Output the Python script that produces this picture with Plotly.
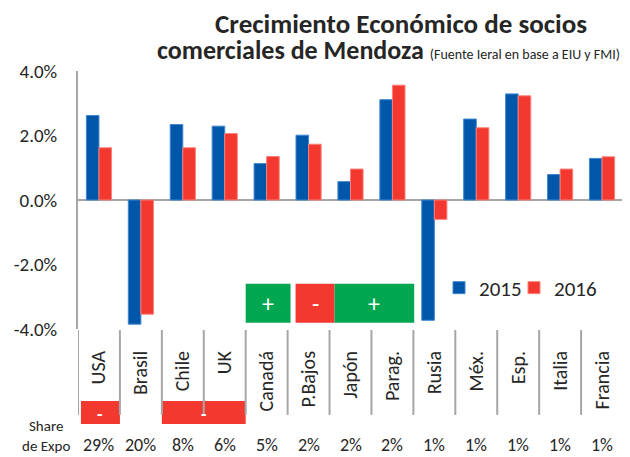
import plotly.graph_objects as go

categories = ["USA", "Brasil", "Chile", "UK", "Canadá", "P.Bajos", "Japón",
              "Parag.", "Rusia", "Méx.", "Esp.", "Italia", "Francia"]
g2015 = [2.62, -3.85, 2.34, 2.29, 1.13, 2.01, 0.57, 3.11, -3.73, 2.51, 3.29, 0.79, 1.29]
g2016 = [1.62, -3.54, 1.62, 2.06, 1.35, 1.73, 0.96, 3.56, -0.60, 2.24, 3.23, 0.96, 1.34]
share_expo = ["29%", "20%", "8%", "6%", "5%", "2%", "2%", "2%", "1%", "1%", "1%", "1%", "1%"]
y_ticks = [-4, -2, 0, 2, 4]
y_ticktext = ["-4.0%", "-2.0%", "0.0%", "2.0%", "4.0%"]

# upper indicator boxes (category span, sign)
up_start = [3.5, 4.69, 5.62]
up_end = [4.57, 5.62, 7.52]
up_sign = ["+", "-", "+"]
up_color = ["#00A650", "#F2382F", "#00A650"]
# lower indicator boxes
low_start = [-0.43, 1.5]
low_end = [0.5, 3.5]
low_sign = ["-", "-"]

BLUE = "#0057AA"
RED = "#F2382F"
GRAY = "#A6A6A6"
TXT = "#262626"
FONT = "Carlito, Lato, sans-serif"

# the page body has an 8px margin, so the figure is 8px smaller than the window
W, H = 622, 449
L, R, T, B = 70, 7, 63, 128
PW = W - L - R
PH = H - T - B

fig = go.Figure()
fig.add_trace(go.Bar(x=categories, y=g2015, name="2015", marker_color=BLUE,
                     marker_line=dict(color="#3F86D0", width=1), legend="legend"))
fig.add_trace(go.Bar(x=categories, y=g2016, name="2016", marker_color=RED,
                     marker_line=dict(color="#F8807A", width=1), legend="legend2"))

shapes = []
annotations = []
for s, e, c, sg in zip(up_start, up_end, up_color, up_sign):
    shapes.append(dict(type="rect", xref="x", yref="y", x0=s, x1=e, y0=-2.6, y1=-3.81,
                       fillcolor=c, line=dict(width=0), layer="above"))
    annotations.append(dict(xref="x", yref="y", x=(s + e) / 2, y=-3.2, text=sg,
                            xanchor="center", yanchor="middle",
                            showarrow=False, font=dict(color="white", size=24, family=FONT)))
for s, e, sg in zip(low_start, low_end, low_sign):
    shapes.append(dict(type="rect", xref="x", yref="paper", x0=s, x1=e, y0=-0.279, y1=-0.368,
                       fillcolor=RED, line=dict(width=0)))
    annotations.append(dict(xref="x", yref="paper", x=(s + e) / 2, y=-0.33, text="<b>-</b>",
                            xanchor="center", yanchor="middle",
                            showarrow=False, font=dict(color="white", size=18, family=FONT)))
for i in range(len(categories) + 1):
    shapes.append(dict(type="line", xref="x", yref="paper", x0=i - 0.5, x1=i - 0.5,
                       y0=-0.004, y1=-0.333, line=dict(color=GRAY, width=2)))

for i, s in enumerate(share_expo):
    annotations.append(dict(xref="x", yref="paper", x=categories[i], y=-0.450, text=s,
                            xanchor="center", yanchor="middle",
                            showarrow=False, font=dict(size=18, color=TXT, family=FONT)))
annotations.append(dict(xref="paper", yref="paper", x=(38 - L) / PW, y=-(B - 0.5) / PH,
                        xanchor="center", yanchor="bottom",
                        text="Share<br>de Expo", showarrow=False, align="center",
                        font=dict(size=15, color=TXT, family=FONT)))
annotations.append(dict(xref="paper", yref="paper", x=(147 - L) / PW, y=1.083,
                        xanchor="left", yanchor="middle",
                        text="<b>comerciales de Mendoza</b> <span style='font-size:14px'>(Fuente Ieral en base a EIU y FMI)</span>",
                        showarrow=False, font=dict(size=26, color=TXT, family=FONT)))

leg_common = dict(orientation="h", y=(329 - 288) / 258, xanchor="left", yanchor="middle",
                  font=dict(size=21, color=TXT, family=FONT), bgcolor="rgba(0,0,0,0)")
fig.update_layout(
    width=W, height=H,
    margin=dict(l=L, r=R, t=T, b=B, autoexpand=False),
    paper_bgcolor="white", plot_bgcolor="white",
    font=dict(family=FONT, color=TXT),
    title=dict(text="<b>Crecimiento Económico de socios</b>", x=393 / W, xanchor="center",
               y=1 - 15.5 / H, yanchor="middle", font=dict(size=27, color=TXT, family=FONT)),
    barmode="group", bargap=0.4, bargroupgap=0,
    shapes=shapes, annotations=annotations,
    legend=dict(x=(431 - L) / PW, **leg_common),
    legend2=dict(x=(506 - L) / PW, **leg_common),
    showlegend=True,
)
fig.update_xaxes(type="category", range=[-0.5, 12.5], showline=False, showgrid=False,
                 tickangle=-90, ticks="outside", ticklen=13, tickcolor="rgba(0,0,0,0)",
                 tickfont=dict(size=20, color=TXT, family=FONT), zeroline=False,
                 automargin=False)
fig.update_yaxes(range=[-4, 4], tickvals=y_ticks, ticktext=y_ticktext,
                 showgrid=False, zeroline=True, zerolinecolor=GRAY, zerolinewidth=2,
                 showline=True, linecolor=GRAY, linewidth=2,
                 ticks="outside", ticklen=15, tickcolor="rgba(0,0,0,0)",
                 tickfont=dict(size=19, color=TXT, family=FONT), automargin=False)

fig.write_html("out.html")
